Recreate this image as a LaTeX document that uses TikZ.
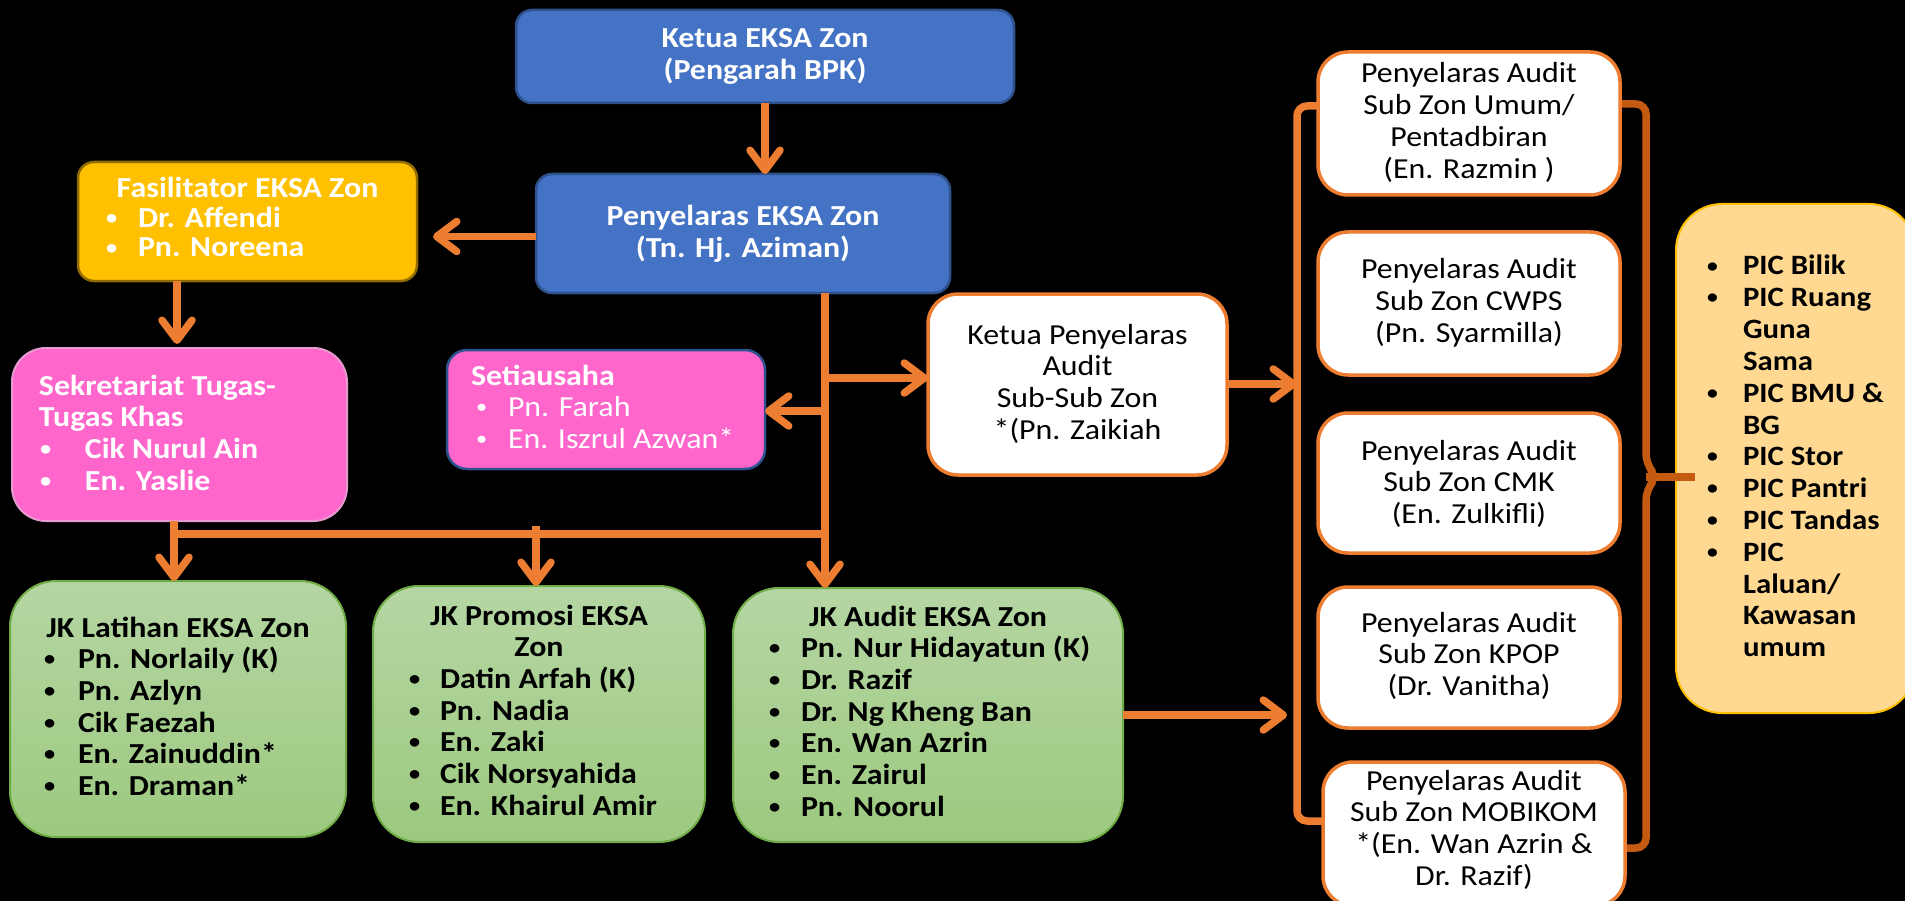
\documentclass[tikz,border=0pt]{standalone}
\usepackage{fontspec}
\setmainfont{Carlito}[FakeStretch=1.1]
\usetikzlibrary{arrows.meta}
\definecolor{orL}{HTML}{ED7D31}
\definecolor{orD}{HTML}{C55A11}
\definecolor{blF}{HTML}{4472C4}
\definecolor{blB}{HTML}{2F528F}
\definecolor{goldF}{HTML}{FFC000}
\definecolor{goldB}{HTML}{8F6B00}
\definecolor{pinkF}{HTML}{FF66CC}
\definecolor{pinkB}{HTML}{E59AD0}
\definecolor{grT}{HTML}{B5D6A3}
\definecolor{grB}{HTML}{9CC97F}
\definecolor{grD}{HTML}{70AD47}
\definecolor{picF}{HTML}{FFD992}
\newcommand\fs{\fontsize{29}{31.7}\selectfont}
\newcommand\bdot{\raisebox{0.1em}{\scalebox{0.7}{•}}}
\newcommand\itm[3]{\hspace*{#1}\makebox[#2][l]{\bdot}#3}
\tikzset{
  conn/.style={draw=orL, line width=7.5pt},
  arr/.style={conn, -{Straight Barb[length=20pt,width=30pt,round]}},
  box/.style={inner sep=0pt, outer sep=0pt},
  bluebox/.style={box, fill=blF, draw=blB, line width=2.5pt, rounded corners=16pt},
  goldbox/.style={box, fill=goldF, draw=goldB, line width=2.5pt, rounded corners=16pt},
  pinkbox/.style={box, fill=pinkF, draw=pinkB, line width=2pt, rounded corners=34pt},
  setiabox/.style={box, fill=pinkF, draw=blB, line width=2.5pt, rounded corners=20pt},
  greenbox/.style={box, top color=grT, bottom color=grB, draw=grD, line width=2pt, rounded corners=46pt},
  whitebox/.style={box, fill=white, draw=orL, line width=3.5pt, rounded corners=30pt},
  picbox/.style={box, fill=picF, draw=goldF, line width=2pt, rounded corners=46pt},
  txt/.style={inner sep=0pt, outer sep=0pt, font=\fs},
}
\begin{document}
\begin{tikzpicture}[x=1pt,y=-1pt]
\useasboundingbox (0,0) rectangle (1905,901);
\fill[black] (0,0) rectangle (1905,901);

% ---- boxes ----
\node[bluebox, minimum width=498pt, minimum height=93pt] (ketua) at (765,56.5) {};
\node[bluebox, minimum width=414pt, minimum height=119pt] (peny) at (743,233.5) {};
\node[goldbox, minimum width=339pt, minimum height=119pt] (fasil) at (247.5,221.5) {};
\node[pinkbox, minimum width=335pt, minimum height=173pt] (sekr) at (179.5,434.5) {};
\node[setiabox, minimum width=318pt, minimum height=119pt] (setia) at (606,409.5) {};
\node[whitebox, minimum width=299pt, minimum height=181pt] (kpa) at (1077.5,384.5) {};
\node[greenbox, minimum width=336pt, minimum height=256pt] (latihan) at (178,709) {};
\node[greenbox, minimum width=332pt, minimum height=256pt] (promosi) at (539,714) {};
\node[greenbox, minimum width=390pt, minimum height=254pt] (audit) at (928,715) {};

% ---- brackets (behind the right column boxes) ----
\coordinate (lbTop) at (1297,106);
\coordinate (lbBot) at (1297,821);
\draw[line width=7.5pt, orL, rounded corners=10pt] (1330,106) -- (lbTop) -- (lbBot) -- (1335,821);
\draw[line width=7.5pt, orD, rounded corners=10pt] (1610,104) -- (1646,104) -- (1646,464) -- (1657,477) -- (1646,490) -- (1646,848) -- (1612,848);

\node[whitebox, minimum width=302pt, minimum height=143pt] (umum) at (1469,123.5) {};
\node[whitebox, minimum width=302pt, minimum height=143pt] (cwps) at (1469,303.5) {};
\node[whitebox, minimum width=302pt, minimum height=140pt] (cmk) at (1469,483) {};
\node[whitebox, minimum width=302pt, minimum height=141pt] (kpop) at (1469,657.5) {};
\node[whitebox, minimum width=302pt, minimum height=144pt] (mobikom) at (1474,834) {};
\node[picbox, minimum width=239pt, minimum height=509pt] (pic) at (1795.5,458.5) {};
\coordinate (brTip) at (1646,477);
\draw[line width=8pt, orD] (brTip) -- (brTip -| pic.west) -- ++(19,0);

% ---- texts ----
\node[txt, anchor=base, text=white, font=\fs\bfseries] (ketua-t) at (765,48)
  {\parbox[t]{480pt}{\centering Ketua EKSA Zon\\(Pengarah BPK)}};
\node[txt, anchor=base, text=white, font=\fs\bfseries] (peny-t) at (743,226)
  {\parbox[t]{400pt}{\centering Penyelaras EKSA Zon\\(Tn. Hj. Aziman)}};
\node[txt, anchor=base west, text=white, font=\fontsize{29}{29.5}\selectfont\bfseries] (fasil-t) at (78,198)
  {\parbox[t]{339pt}{\raggedright\makebox[\linewidth]{Fasilitator EKSA Zon}\\
   \itm{28pt}{32pt}{Dr. Affendi}\\\itm{28pt}{32pt}{Pn. Noreena}}};
\node[txt, anchor=base west, text=white, font=\fs\bfseries] (sekr-t) at (12,395)
  {\parbox[t]{335pt}{\raggedright\hspace*{27pt}Sekretariat Tugas-\\\hspace*{27pt}Tugas Khas\\
   \itm{28pt}{45pt}{Cik Nurul Ain}\\\itm{28pt}{45pt}{En. Yaslie}}};
\node[txt, anchor=base west, text=white] (setia-t) at (447,385)
  {\parbox[t]{318pt}{\raggedright\hspace*{24pt}\textbf{Setiausaha}\\
   \itm{29pt}{32pt}{Pn. Farah}\\\itm{29pt}{32pt}{En. Iszrul Azwan*}}};
\node[txt, anchor=base, text=black] (kpa-t) at (1077.5,344)
  {\parbox[t]{290pt}{\centering Ketua Penyelaras\\Audit\\Sub-Sub Zon\\{}*(Pn. Zaikiah}};
\node[txt, anchor=base west, text=black, font=\fs\bfseries] (latihan-t) at (10,637)
  {\parbox[t]{336pt}{\raggedright\makebox[\linewidth]{JK Latihan EKSA Zon}\\
   \itm{34pt}{34pt}{Pn. Norlaily (K)}\\\itm{34pt}{34pt}{Pn. Azlyn}\\\itm{34pt}{34pt}{Cik Faezah}\\
   \itm{34pt}{34pt}{En. Zainuddin*}\\\itm{34pt}{34pt}{En. Draman*}}};
\node[txt, anchor=base west, text=black, font=\fs\bfseries] (promosi-t) at (373,625)
  {\parbox[t]{332pt}{\raggedright\makebox[\linewidth]{JK Promosi EKSA}\\\makebox[\linewidth]{Zon}\\
   \itm{36pt}{31pt}{Datin Arfah (K)}\\\itm{36pt}{31pt}{Pn. Nadia}\\\itm{36pt}{31pt}{En. Zaki}\\
   \itm{36pt}{31pt}{Cik Norsyahida}\\\itm{36pt}{31pt}{En. Khairul Amir}}};
\node[txt, anchor=base west, text=black, font=\fs\bfseries] (audit-t) at (733,626)
  {\parbox[t]{390pt}{\raggedright\makebox[\linewidth]{JK Audit EKSA Zon}\\
   \itm{36pt}{32pt}{Pn. Nur Hidayatun (K)}\\\itm{36pt}{32pt}{Dr. Razif}\\\itm{36pt}{32pt}{Dr. Ng Kheng Ban}\\
   \itm{36pt}{32pt}{En. Wan Azrin}\\\itm{36pt}{32pt}{En. Zairul}\\\itm{36pt}{32pt}{Pn. Noorul}}};
\node[txt, anchor=base, text=black] (umum-t) at (1469,83)
  {\parbox[t]{300pt}{\centering Penyelaras Audit\\Sub Zon Umum/\\Pentadbiran\\(En. Razmin )}};
\node[txt, anchor=base, text=black] (cwps-t) at (1469,279)
  {\parbox[t]{300pt}{\centering Penyelaras Audit\\Sub Zon CWPS\\(Pn. Syarmilla)}};
\node[txt, anchor=base, text=black] (cmk-t) at (1469,460)
  {\parbox[t]{300pt}{\centering Penyelaras Audit\\Sub Zon CMK\\(En. Zulkifli)}};
\node[txt, anchor=base, text=black] (kpop-t) at (1469,632)
  {\parbox[t]{300pt}{\centering Penyelaras Audit\\Sub Zon KPOP\\(Dr. Vanitha)}};
\node[txt, anchor=base, text=black] (mob-t) at (1474,790)
  {\parbox[t]{300pt}{\centering Penyelaras Audit\\Sub Zon MOBIKOM\\{}*(En. Wan Azrin \&\\Dr. Razif)}};
\node[txt, anchor=base west, text=black, font=\fontsize{28}{31.8}\selectfont\bfseries] (pic-t) at (1676,275)
  {\parbox[t]{239pt}{\raggedright
   \itm{31pt}{36pt}{PIC Bilik}\\\itm{31pt}{36pt}{PIC Ruang}\\\hspace*{67pt}Guna\\\hspace*{67pt}Sama\\
   \itm{31pt}{36pt}{PIC BMU \&}\\\hspace*{67pt}BG\\\itm{31pt}{36pt}{PIC Stor}\\\itm{31pt}{36pt}{PIC Pantri}\\
   \itm{31pt}{36pt}{PIC Tandas}\\\itm{31pt}{36pt}{PIC}\\\hspace*{67pt}Laluan/\\\hspace*{67pt}Kawasan\\\hspace*{67pt}umum}};

% ---- connectors ----
\coordinate (k1) at (765,103);
\draw[arr] (k1) -- (k1 |- peny.north);
\coordinate (p1) at (536,236.5);
\draw[arr, shorten >=16pt] (p1) -- (p1 -| fasil.east);
\coordinate (f1) at (177,281);
\draw[arr, shorten >=4pt] (f1) -- (f1 |- sekr.north);
\coordinate (trunk) at (825,293);
\coordinate (hl) at (825,534);
\draw[arr] (trunk) -- (trunk |- audit.north);
\coordinate (s1) at (825,411);
\draw[arr] (s1) -- (s1 -| setia.east);
\coordinate (s2) at (825,378);
\draw[arr] (s2) -- (s2 -| kpa.west);
\coordinate (sk) at (174,521);
\draw[arr] (sk) -- (sk |- latihan.north);
\draw[conn] (hl) -- (hl -| sk);
\coordinate (m1) at (536,526);
\draw[arr] (m1) -- (m1 |- promosi.north);
\coordinate (kp) at (1227,384);
\draw[arr] (kp) -- (kp -| lbTop);
\coordinate (au) at (1123,715);
\draw[arr, shorten >=10pt] (au) -- (au -| lbTop);
\end{tikzpicture}
\end{document}
